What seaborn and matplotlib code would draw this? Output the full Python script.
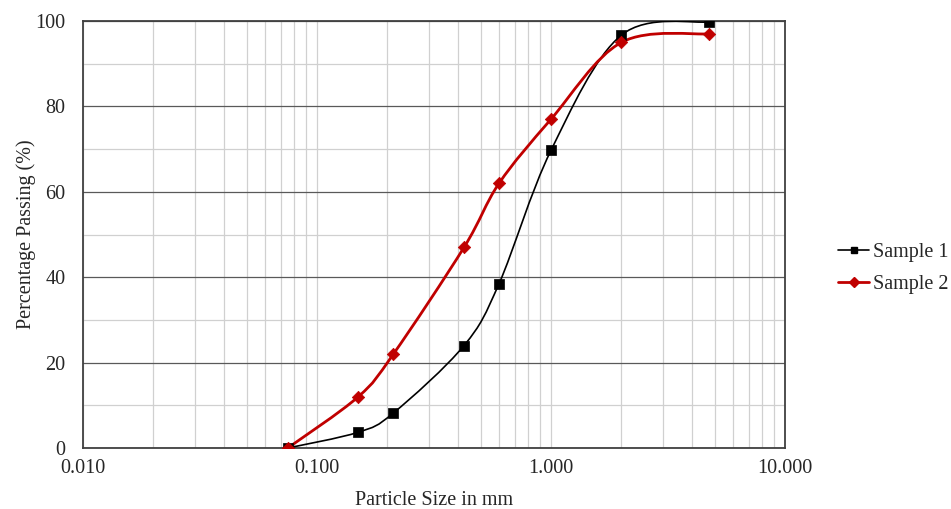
import numpy as np
import pandas as pd
import matplotlib

matplotlib.use("Agg")
import matplotlib.pyplot as plt
import seaborn as sns
from matplotlib.path import Path
from matplotlib.patches import PathPatch
from matplotlib.ticker import FixedLocator, FixedFormatter, MultipleLocator

# sieve sizes (mm) and percent passing
sizes = [0.075, 0.15, 0.212, 0.425, 0.6, 1.0, 2.0, 4.75]
sample1 = [0.0, 3.7, 8.2, 24.0, 38.5, 69.7, 96.7, 99.8]
sample2 = [0.0, 12.0, 22.0, 47.0, 62.0, 77.0, 95.0, 97.0]
series_names = ["Sample 1", "Sample 2"]
series_colors = ["#000000", "#c00000"]
series_markers = ["s", "D"]
x_ticks = [0.01, 0.1, 1.0, 10.0]
x_labels = ["0.010", "0.100", "1.000", "10.000"]


def smooth_path(xs, ys):
    # Excel-style smoothed line: cubic Bezier segments, control points from
    # neighbouring points (computed in log-x space, drawn through transData)
    lx = np.log10(xs)
    ys = np.asarray(ys, dtype=float)
    n = len(lx)
    verts = [(xs[0], ys[0])]
    codes = [Path.MOVETO]
    for i in range(n - 1):
        p0 = max(i - 1, 0)
        p3 = min(i + 2, n - 1)
        c1x = lx[i] + (lx[i + 1] - lx[p0]) / 6
        c1y = ys[i] + (ys[i + 1] - ys[p0]) / 6
        c2x = lx[i + 1] - (lx[p3] - lx[i]) / 6
        c2y = ys[i + 1] - (ys[p3] - ys[i]) / 6
        verts += [(10 ** c1x, c1y), (10 ** c2x, c2y), (xs[i + 1], ys[i + 1])]
        codes += [Path.CURVE4] * 3
    return Path(verts, codes)


def main() -> None:
    sns.set_theme(style="white")
    plt.rcParams["font.family"] = ["Liberation Serif", "DejaVu Serif"]
    fs = 14.5

    data = pd.DataFrame(
        {
            "size": sizes * 2,
            "passing": sample1 + sample2,
            "sample": [series_names[0]] * len(sizes) + [series_names[1]] * len(sizes),
        }
    )

    fig = plt.figure(figsize=(9.51, 5.09), dpi=100)
    ax = fig.add_axes([0.0873, 0.1198, 0.7381, 0.8389])
    ax.set_xscale("log")

    for name, color, marker, vals, lw in zip(
        series_names, series_colors, series_markers, [sample1, sample2], [1.2, 2.0]
    ):
        patch = PathPatch(
            smooth_path(sizes, vals), facecolor="none", edgecolor=color,
            linewidth=lw, zorder=3,
        )
        ax.add_patch(patch)
        sns.scatterplot(
            data=data[data["sample"] == name], x="size", y="passing",
            color=color, marker=marker, s=45 if marker == "s" else 40,
            edgecolor=color, linewidth=0.5, ax=ax, zorder=4, legend=False,
        )
        ax.plot([], [], color=color, marker=marker, lw=lw, ms=5, label=name)

    ax.set_xlim(0.01, 10)
    ax.set_ylim(0, 100)
    ax.xaxis.set_major_locator(FixedLocator(x_ticks))
    ax.xaxis.set_major_formatter(FixedFormatter(x_labels))
    ax.xaxis.set_minor_locator(
        matplotlib.ticker.LogLocator(base=10, subs=np.arange(2, 10), numticks=20)
    )
    ax.xaxis.set_minor_formatter(matplotlib.ticker.NullFormatter())
    ax.yaxis.set_major_locator(MultipleLocator(20))
    ax.yaxis.set_minor_locator(MultipleLocator(10))

    ax.grid(which="minor", axis="both", color="#d0d0d0", linewidth=0.9)
    ax.grid(which="major", axis="x", color="#d0d0d0", linewidth=0.9)
    ax.grid(which="major", axis="y", color="#595959", linewidth=0.9)
    ax.set_axisbelow(True)

    for sp in ax.spines.values():
        sp.set_color("#404040")
        sp.set_linewidth(1.3)

    ax.tick_params(which="major", direction="out", length=5, width=1,
                   color="#404040", labelsize=fs, labelcolor="#262626", pad=3)
    ax.tick_params(axis="y", which="major", pad=7.5)
    ax.tick_params(which="minor", length=0)

    ax.set_xlabel("Particle Size in mm", fontsize=fs, color="#262626", labelpad=9)
    ax.set_ylabel("Percentage Passing (%)", fontsize=fs, color="#262626", labelpad=0)

    ax.legend(loc="center left", bbox_to_anchor=(1.0755, 0.42), frameon=False,
              fontsize=fs, handlelength=1.55, handletextpad=0.2, labelspacing=0.65,
              borderaxespad=0, borderpad=0)

    fig.savefig("out.png", dpi=100)
    plt.close(fig)


if __name__ == "__main__":
    main()
